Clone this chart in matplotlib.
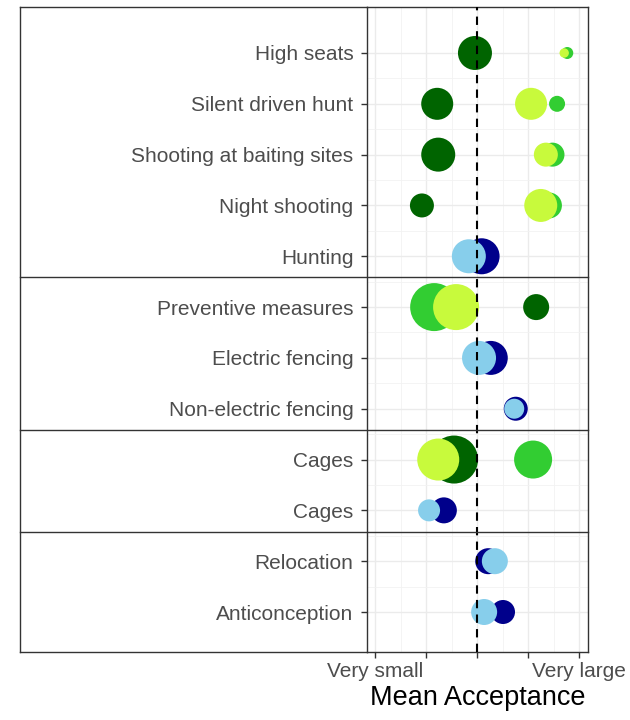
import numpy as np
import matplotlib
matplotlib.use("Agg")
import matplotlib.pyplot as plt
import matplotlib.transforms as mtransforms

plt.rcParams['font.family'] = ['Liberation Sans', 'DejaVu Sans']

# categories from top to bottom
categories = ["High seats", "Silent driven hunt", "Shooting at baiting sites",
              "Night shooting", "Hunting", "Preventive measures", "Electric fencing",
              "Non-electric fencing", "Cages", "Cages", "Relocation", "Anticonception"]
nan = np.nan
# mean acceptance (1 = very small ... 5 = very large)
darkgreen_x = [2.96, 2.22, 2.24, 1.92, nan, 4.16, nan, nan, 2.55, nan, nan, nan]
darkgreen_n = [28.9, 25.6, 28.9, 14.4, nan, 16.9, nan, nan, 57.6, nan, nan, nan]
limegreen_x = [4.77, 4.57, 4.48, 4.41, nan, 2.16, nan, nan, 4.10, nan, nan, nan]
limegreen_n = [3.6, 6.4, 14.4, 16.9, nan, 57.6, nan, nan, 36.1, nan, nan, nan]
yellowgreen_x = [4.71, 4.06, 4.35, 4.25, nan, 2.59, nan, nan, 2.24, nan, nan, nan]
yellowgreen_n = [2.2, 25.6, 14.4, 27.2, nan, 52.9, nan, nan, 44.1, nan, nan, nan]
navy_x = [nan, nan, nan, nan, 3.09, nan, 3.27, 3.76, nan, 2.35, 3.22, 3.51]
navy_n = [nan, nan, nan, nan, 32.4, nan, 28.9, 14.4, nan, 16.9, 16.9, 14.4]
skyblue_x = [nan, nan, nan, nan, 2.84, nan, 3.04, 3.73, nan, 2.06, 3.35, 3.14]
skyblue_n = [nan, nan, nan, nan, 28.9, nan, 28.9, 10.0, nan, 12.1, 16.9, 16.9]

xtick_labels = ["Very small", "", "", "", "Very large"]

series = [
    (darkgreen_x, darkgreen_n, "#006400"),
    (limegreen_x, limegreen_n, "#32CD32"),
    (yellowgreen_x, yellowgreen_n, "#C8FA3C"),
    (navy_x, navy_n, "#00008B"),
    (skyblue_x, skyblue_n, "#87CEEB"),
]

fig = plt.figure(figsize=(6.3, 7.2), dpi=100)
W, H = 630, 720
pl, pr, pt, pb = 367, 588, 7, 652
ax = fig.add_axes([pl / W, 1 - pb / H, (pr - pl) / W, (pb - pt) / H])

nrow = len(categories)
ypos = np.arange(nrow, 0, -1)

for xs, ns, col in series:
    xs = np.array(xs, dtype=float)
    ns = np.array(ns, dtype=float)
    m = ~np.isnan(xs)
    ax.scatter(xs[m], ypos[m], s=ns[m] * 10 * 1.44 ** 2, color=col,
               edgecolors='none', zorder=3)

ax.axvline(3, color='black', ls=(0, (4, 3)), lw=1.5, zorder=4)

ax.set_xlim(1 - 8 / 51, 5 + 9 / 51)
ax.set_ylim(1 - 40 / 50.82, 12 + 46 / 50.82)
ax.set_xticks([1, 2, 3, 4, 5])
ax.set_xticklabels(xtick_labels)
ax.set_xticks([1.5, 2.5, 3.5, 4.5], minor=True)
ax.set_yticks(ypos)
ax.set_yticklabels(categories)
ax.set_yticks(np.arange(1.5, 12.5, 1.0), minor=True)
ax.grid(True, which='major', color='#EBEBEB', lw=1.0, zorder=0)
ax.grid(True, which='minor', color='#F2F2F2', lw=0.6, zorder=0)
ax.set_axisbelow(True)
ax.tick_params(which='minor', length=0)
ax.tick_params(which='major', length=4.3, width=1, color='#333333',
               labelcolor='#4D4D4D', labelsize=15, pad=3)
ax.tick_params(axis='y', which='major', pad=5.5)
for s in ax.spines.values():
    s.set_color('#333333')
    s.set_linewidth(1)

ax.set_xlabel("Mean Acceptance", fontsize=19.5, color='black', labelpad=3)

# outer box and group separators
trans = mtransforms.blended_transform_factory(ax.transAxes, ax.transData)
x0 = (20 - pl) / (pr - pl)
for yv in [7.59, 4.58, 2.57]:
    ax.plot([x0, 1], [yv, yv], transform=trans, color='#333333', lw=1,
            clip_on=False, zorder=5)
ax.plot([x0, x0], [0, 1], transform=ax.transAxes, color='#333333', lw=1, clip_on=False)
ax.plot([x0, 0], [1, 1], transform=ax.transAxes, color='#333333', lw=1, clip_on=False)
ax.plot([x0, 0], [0, 0], transform=ax.transAxes, color='#333333', lw=1, clip_on=False)

fig.savefig("out.png", dpi=100)
